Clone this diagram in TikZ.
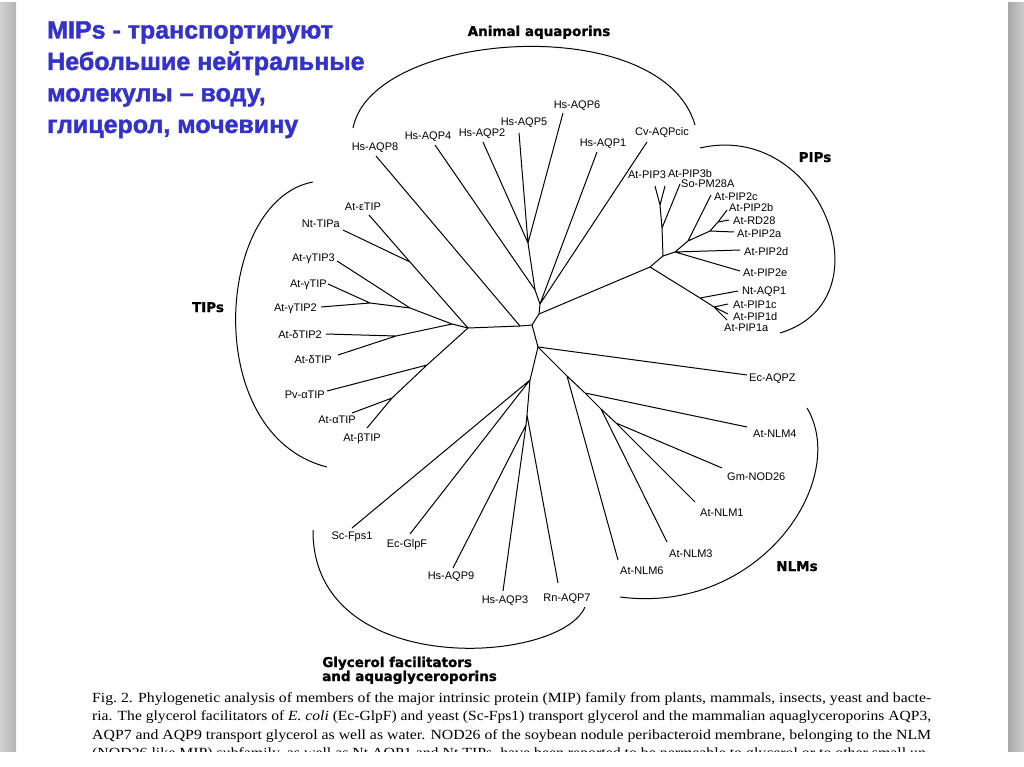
\documentclass[tikz,border=0pt]{standalone}
\usepackage{fontspec}
\usepackage{graphicx}
\setmainfont{Liberation Serif}
\setsansfont{Liberation Sans}
\newfontfamily\grpfont{DejaVu Sans Bold}[FakeBold=1.2]
\newfontfamily\ttlfont{Liberation Sans Bold}[FakeBold=1.6]
\usetikzlibrary{positioning}
\definecolor{titleblue}{RGB}{51,51,204}

\begin{document}
\begin{tikzpicture}[x=1pt, y=-1pt, line join=round]
  \tikzstyle{lbl}=[font=\sffamily\fontsize{11}{13}\selectfont, inner sep=0pt, text height=8pt, text depth=0pt]
  \tikzstyle{grp}=[font=\grpfont\fontsize{13.5}{14}\selectfont, inner sep=0pt]
  \tikzstyle{ttl}=[font=\ttlfont\fontsize{25}{30}\selectfont, text=titleblue, inner sep=0pt]
  \tikzstyle{capt}=[font=\rmfamily\fontsize{14}{16}\selectfont, inner sep=0pt]
  \tikzstyle{branch}=[line width=1pt]
  \tikzstyle{clade}=[line width=1pt]

  \useasboundingbox (0,0) rectangle (1024,767);
  \fill[white] (0,0) rectangle (1024,767);

  % slide edges
  \shade[left color=black!18, right color=black!30] (0,3) rectangle (16,752);
  \shade[left color=black!34, right color=black!20] (1008,3) rectangle (1024,752);

  % title
  \node (title1) [ttl, anchor=base west] at (47,38.5) {MIPs - транспортируют};
  \node (title2) [ttl, below=31.5pt of title1.base west, anchor=base west] {Небольшие нейтральные};
  \node (title3) [ttl, below=31.5pt of title2.base west, anchor=base west] {молекулы – воду,};
  \node (title4) [ttl, below=31.5pt of title3.base west, anchor=base west] {глицерол, мочевину};

  % inner nodes of the tree
  \coordinate (root) at (532,325);
  \coordinate (up) at (539,314);
  \coordinate (mid) at (520,326);
  \coordinate (down) at (538,347);
  \coordinate (an1) at (540,304);
  \coordinate (an2) at (535,290);
  \coordinate (an3) at (528,243);
  \coordinate (ti0) at (468,328);
  \coordinate (ti1) at (452,324);
  \coordinate (ti2) at (410,308);
  \coordinate (ti3) at (370,303);
  \coordinate (ti4) at (396,336);
  \coordinate (ti5) at (410,262);
  \coordinate (ti6) at (427,365);
  \coordinate (ti7) at (392,398);
  \coordinate (pi0) at (650,267);
  \coordinate (pi1) at (663,256);
  \coordinate (pi2) at (662,228);
  \coordinate (pi3) at (660,205);
  \coordinate (pi4) at (675,252);
  \coordinate (pi5) at (688,241);
  \coordinate (pi6) at (710,231);
  \coordinate (pi7) at (718,222);
  \coordinate (pi8) at (700,298);
  \coordinate (pi9) at (714,307);
  \coordinate (nl1) at (567,376);
  \coordinate (nl2) at (585,393);
  \coordinate (nl3) at (601,409);
  \coordinate (nl4) at (616,423);
  \coordinate (gf0) at (530,380);
  \coordinate (gf1) at (527,415);
  \coordinate (gf2) at (526,425);

  % leaf ends
  \coordinate (aqp8) at (376,156);
  \coordinate (aqp4) at (435,145);
  \coordinate (aqp2) at (483,142);
  \coordinate (aqp5) at (519,133);
  \coordinate (aqp6) at (563,113);
  \coordinate (aqp1) at (597,152);
  \coordinate (aqpcic) at (647,142);
  \coordinate (pip3) at (655,186);
  \coordinate (pip3b) at (665,186);
  \coordinate (pm28a) at (680,184);
  \coordinate (pip2c) at (711,195);
  \coordinate (pip2b) at (727,210);
  \coordinate (rd28) at (729,220);
  \coordinate (pip2a) at (734,232);
  \coordinate (pip2d) at (740,250);
  \coordinate (pip2e) at (740,271);
  \coordinate (ntaqp1) at (738,291);
  \coordinate (pip1c) at (728,304);
  \coordinate (pip1d) at (728,314);
  \coordinate (pip1a) at (727,320);
  \coordinate (etip) at (369,215);
  \coordinate (nttipa) at (343,230);
  \coordinate (gtip3) at (337,261);
  \coordinate (gtip) at (328,284);
  \coordinate (gtip2) at (321,307);
  \coordinate (dtip2) at (326,334);
  \coordinate (dtip) at (338,355);
  \coordinate (pvtip) at (327,391);
  \coordinate (atip) at (352,413);
  \coordinate (btip) at (367,428);
  \coordinate (fps1) at (352,528);
  \coordinate (glpf) at (410,534);
  \coordinate (aqp9) at (453,568);
  \coordinate (aqp3) at (503,591);
  \coordinate (aqp7) at (558,583);
  \coordinate (aqpz) at (747,375);
  \coordinate (nlm4) at (747,427);
  \coordinate (nod26) at (722,468);
  \coordinate (nlm1) at (695,502);
  \coordinate (nlm3) at (667,542);
  \coordinate (nlm6) at (618,560);

  % branches
  \draw[branch] (ti0) -- (mid) -- (root) -- (up) -- (an1) -- (an2) -- (an3);
  \draw[branch] (mid) -- (aqp8);
  \draw[branch] (an2) -- (aqp4);
  \draw[branch] (an3) -- (aqp2) (an3) -- (aqp5) (an3) -- (aqp6);
  \draw[branch] (an1) -- (aqp1) (an1) -- (aqpcic);
  \draw[branch] (up) -- (pi0) -- (pi1) -- (pi2) -- (pi3) -- (pip3) (pi3) -- (pip3b) (pi2) -- (pm28a);
  \draw[branch] (pi1) -- (pi4) -- (pi5) -- (pi6) -- (pi7) -- (pip2b) (pi7) -- (rd28) (pi6) -- (pip2a) (pi5) -- (pip2c);
  \draw[branch] (pi4) -- (pip2d) (pi4) -- (pip2e);
  \draw[branch] (pi0) -- (pi8) -- (pi9) -- (pip1a) (pi8) -- (ntaqp1) (pi9) -- (pip1c) (pi9) -- (pip1d);
  \draw[branch] (ti0) -- (ti5) -- (etip) (ti5) -- (nttipa);
  \draw[branch] (ti0) -- (ti1) -- (ti2) -- (ti3) -- (gtip) (ti3) -- (gtip2) (ti2) -- (gtip3);
  \draw[branch] (ti1) -- (ti4) -- (dtip2) (ti4) -- (dtip);
  \draw[branch] (ti0) -- (ti6) -- (ti7) -- (btip) (ti6) -- (pvtip) (ti7) -- (atip);
  \draw[branch] (root) -- (down) -- (aqpz);
  \draw[branch] (down) -- (nl1) -- (nl2) -- (nl3) -- (nl4) -- (nlm1) (nl1) -- (nlm6) (nl2) -- (nlm4) (nl3) -- (nlm3) (nl4) -- (nod26);
  \draw[branch] (down) -- (gf0) -- (gf1) -- (gf2) -- (aqp9) (gf2) -- (aqp3) (gf1) -- (aqp7) (gf0) -- (fps1) (gf0) -- (glpf);

  % leaf labels
  \node (laqp8) [lbl] at (375,147) {Hs-AQP8};
  \node (laqp4) [lbl] at (428,136) {Hs-AQP4};
  \node (laqp2) [lbl] at (482,133) {Hs-AQP2};
  \node (laqp5) [lbl] at (524,122) {Hs-AQP5};
  \node (laqp6) [lbl] at (577,105) {Hs-AQP6};
  \node (laqp1) [lbl] at (603,143) {Hs-AQP1};
  \node (laqpcic) [lbl] at (662,132) {Cv-AQPcic};

  \node (lpip3) [lbl] at (647,175) {At-PIP3};
  \node (lpip3b) [lbl] at (690,174) {At-PIP3b};
  \node (lpm28a) [lbl, anchor=west] at (681,184) {So-PM28A};
  \node (lpip2c) [lbl, anchor=west] at (714,197) {At-PIP2c};
  \node (lpip2b) [lbl, anchor=west] at (729,208) {At-PIP2b};
  \node (lrd28) [lbl, anchor=west] at (733,221) {At-RD28};
  \node (lpip2a) [lbl, anchor=west] at (737,233) {At-PIP2a};
  \node (lpip2d) [lbl, anchor=west] at (744,251) {At-PIP2d};
  \node (lpip2e) [lbl, anchor=west] at (743,272) {At-PIP2e};
  \node (lntaqp1) [lbl, anchor=west] at (742,290) {Nt-AQP1};
  \node (lpip1c) [lbl, anchor=west] at (733,304) {At-PIP1c};
  \node (lpip1d) [lbl, anchor=west] at (733,316) {At-PIP1d};
  \node (lpip1a) [lbl, anchor=west] at (724,327) {At-PIP1a};

  \node (letip) [lbl] at (363,207) {At-εTIP};
  \node (lnttipa) [lbl, anchor=east] at (340,223) {Nt-TIPa};
  \node (lgtip3) [lbl, anchor=east] at (335,257) {At-γTIP3};
  \node (lgtip) [lbl, anchor=east] at (327,283) {At-γTIP};
  \node (lgtip2) [lbl, anchor=east] at (317,307) {At-γTIP2};
  \node (ldtip2) [lbl, anchor=east] at (322,334) {At-δTIP2};
  \node (ldtip) [lbl, anchor=east] at (332,359) {At-δTIP};
  \node (lpvtip) [lbl, anchor=east] at (325,394) {Pv-αTIP};
  \node (latip) [lbl, anchor=east] at (356,419) {At-αTIP};
  \node (lbtip) [lbl] at (362,437) {At-βTIP};

  \node (lfps1) [lbl] at (352,535) {Sc-Fps1};
  \node (lglpf) [lbl] at (407,543) {Ec-GlpF};
  \node (laqp9) [lbl] at (451,575) {Hs-AQP9};
  \node (laqp3) [lbl] at (505,599) {Hs-AQP3};
  \node (laqp7) [lbl] at (567,597) {Rn-AQP7};

  \node (laqpz) [lbl, anchor=west] at (749,377) {Ec-AQPZ};
  \node (lnlm4) [lbl, anchor=west] at (753,433) {At-NLM4};
  \node (lnod26) [lbl, anchor=west] at (727,476) {Gm-NOD26};
  \node (lnlm1) [lbl, anchor=west] at (700,512) {At-NLM1};
  \node (lnlm3) [lbl, anchor=west] at (669,553) {At-NLM3};
  \node (lnlm6) [lbl, anchor=west] at (620,570) {At-NLM6};

  % clade brackets and names
  \draw[clade] (353,128) .. controls (372,30) and (662,10) .. (695,125);
  \draw[clade] (313,182) .. controls (215,200) and (200,435) .. (327,467);
  \draw[clade] (700,148) .. controls (820,120) and (890,300) .. (780,333);
  \draw[clade] (807,408) .. controls (850,480) and (760,615) .. (620,597);
  \draw[clade] (313,530) .. controls (312,680) and (560,665) .. (585,607);

  \node (ganimal) [grp, anchor=base] at (539,36) {Animal aquaporins};
  \node (gtips) [grp, anchor=base] at (208,312) {TIPs};
  \node (gpips) [grp, anchor=base] at (815,162) {PIPs};
  \node (gnlms) [grp, anchor=base] at (797,571) {NLMs};
  \node (gglyc1) [grp, anchor=base west] at (322,667) {Glycerol facilitators};
  \node (gglyc2) [grp, below=14pt of gglyc1.base west, anchor=base west] {and aquaglyceroporins};

  % figure caption
  \node (cap1) [capt, anchor=base west] at (92,702) {\resizebox{839pt}{\height}{Fig.~2. Phylogenetic analysis of members of the major intrinsic protein (MIP) family from plants, mammals, insects, yeast and bacte-}};
  \node (cap2) [capt, below=18.5pt of cap1.base west, anchor=base west] {\resizebox{839pt}{\height}{ria. The glycerol facilitators of \emph{E. coli} (Ec-GlpF) and yeast (Sc-Fps1) transport glycerol and the mammalian aquaglyceroporins AQP3,}};
  \node (cap3) [capt, below=18.5pt of cap2.base west, anchor=base west] {\resizebox{839pt}{\height}{AQP7 and AQP9 transport glycerol as well as water. NOD26 of the soybean nodule peribacteroid membrane, belonging to the NLM}};
  \node (cap4) [capt, below=18.5pt of cap3.base west, anchor=base west] {\resizebox{839pt}{\height}{(NOD26 like MIP) subfamily, as well as Nt AQP1 and Nt TIPs, have been reported to be permeable to glycerol or to other small un-}};

  % lower edge of the slide
  \fill[white] (0,752) rectangle (1024,767);
\end{tikzpicture}
\end{document}
